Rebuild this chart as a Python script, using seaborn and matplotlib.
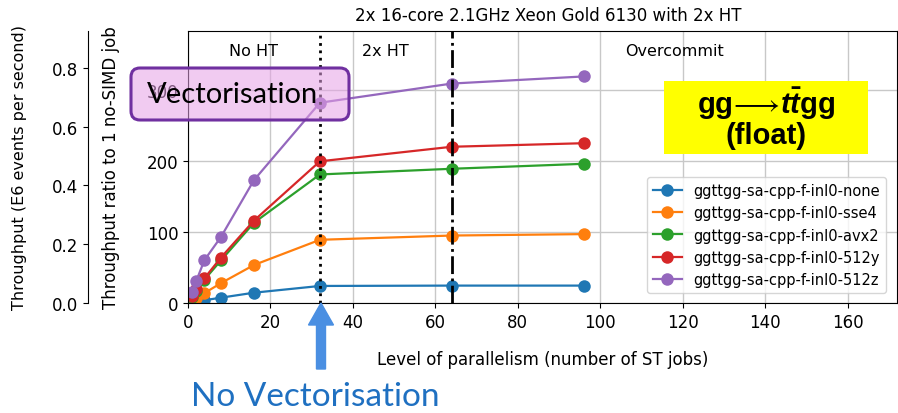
import seaborn as sns
import matplotlib.pyplot as plt
import numpy as np
import pandas as pd
from matplotlib.patches import FancyBboxPatch, Rectangle, FancyArrow
from matplotlib.transforms import IdentityTransform

plt.rcParams['font.family'] = ['DejaVu Sans']
plt.rcParams['mathtext.fontset'] = 'custom'
plt.rcParams['mathtext.it'] = 'Liberation Sans:italic:bold'
plt.rcParams['mathtext.rm'] = 'Liberation Sans:bold'

# Level of parallelism (number of ST jobs)
jobs = [1, 2, 4, 8, 16, 32, 64, 96]

# throughput ratio to 1 no-SIMD job
none_vals = [1, 2, 3.9, 7.5, 14.5, 24, 24.5, 24.5]
sse4_vals = [3.7, 7, 14, 28, 53.5, 89, 95, 97]
avx2_vals = [8.5, 17, 33, 60, 113, 181, 189, 196]
y512_vals = [10, 20, 35, 64, 116, 199.5, 220, 225]
z512_vals = [15, 31, 60.5, 93, 173, 282, 309, 319]

variants = ["ggttgg-sa-cpp-f-inl0-none", "ggttgg-sa-cpp-f-inl0-sse4",
            "ggttgg-sa-cpp-f-inl0-avx2", "ggttgg-sa-cpp-f-inl0-512y",
            "ggttgg-sa-cpp-f-inl0-512z"]
colors = ["#1f77b4", "#ff7f0e", "#2ca02c", "#d62728", "#9467bd"]

# 1 no-SIMD job in E6 events per second (ratio 383 <-> 0.925)
one_job = 0.925 / 383

rows = []
for name, vals in zip(variants, [none_vals, sse4_vals, avx2_vals, y512_vals, z512_vals]):
    for j, v in zip(jobs, vals):
        rows.append({"jobs": j, "ratio": v, "variant": name})
df = pd.DataFrame(rows)

W, H = 898, 414
fig = plt.figure(figsize=(W / 100, H / 100), dpi=100)
fig.patch.set_facecolor("white")

# main axes
ax = fig.add_axes([188 / W, 1 - 304 / H, (897 - 188) / W, (304 - 32) / H])
sns.lineplot(data=df, x="jobs", y="ratio", hue="variant", hue_order=variants,
             palette=colors, marker="o", markersize=9, markeredgewidth=0,
             linewidth=1.6, ax=ax)
ax.set_xlim(0, 172)
ax.set_ylim(0, 383)
ax.set_xticks(np.arange(0, 161, 20))
ax.set_yticks([0, 100, 200, 300])
ax.grid(True, color="#c8c8c8", linewidth=1)
ax.set_axisbelow(True)
ax.tick_params(labelsize=12)
for s in ax.spines.values():
    s.set_color("black")

ax.axvline(32, color="black", linestyle=":", linewidth=2)
ax.axvline(64, color="black", linestyle="-.", linewidth=2)

ax.text(16, 355, "No HT", ha="center", va="center", fontsize=11.5)
ax.text(48, 355, "2x HT", ha="center", va="center", fontsize=11.5)
ax.text(118, 355, "Overcommit", ha="center", va="center", fontsize=11.5)

ax.set_title("2x 16-core 2.1GHz Xeon Gold 6130 with 2x HT", fontsize=12, pad=8, x=0.508)
ax.set_xlabel("Level of parallelism (number of ST jobs)", fontsize=12)
ax.set_ylabel("Throughput ratio to 1 no-SIMD job", fontsize=12)
ax.xaxis.set_label_coords(0.5, -0.173)
ax.yaxis.set_label_coords(-0.096, 0.5)

sns.move_legend(ax, "lower right", title=None, fontsize=10.5, bbox_to_anchor=(0.995, 0.01))

# outer axis in E6 events per second
ax2 = fig.add_axes([88 / W, 1 - 304 / H, 0.0001, (304 - 32) / H])
ax2.set_facecolor("none")
for side in ["right", "top", "bottom"]:
    ax2.spines[side].set_visible(False)
ax2.set_xticks([])
ax2.set_ylim(0, 383 * one_job)
ax2.set_yticks([0.0, 0.2, 0.4, 0.6, 0.8])
ax2.set_yticklabels(["0.0", "0.2", "0.4", "0.6", "0.8"])
ax2.tick_params(labelsize=12)
ax2.set_ylabel("Throughput (E6 events per second)", fontsize=11.5)
ax2.yaxis.set_label_coords(27 / W, 1 - 168 / H, transform=fig.transFigure)

# slide annotations (pixel coordinates)
px = IdentityTransform()
box = FancyBboxPatch((131, H - 121), 218, 52, boxstyle="round,pad=0,rounding_size=9",
                     facecolor=(0.90, 0.63, 0.90, 0.55), edgecolor="#7030a0",
                     linewidth=2.2, transform=px, zorder=10)
fig.add_artist(box)
fig.text(233, H - 95, "Vectorisation", transform=px, ha="center", va="center",
         fontsize=21, family="Lato", color="black", zorder=11)

fig.add_artist(Rectangle((664, H - 155), 204, 73, facecolor="#ffff00",
                         edgecolor="none", transform=px, zorder=10))
fig.text(766, H - 104, r"gg$\!\longrightarrow\!t\bar{t}$gg", transform=px, ha="center",
         va="center", fontsize=21, family="Liberation Sans", weight="bold", zorder=11)
fig.text(766, H - 136, "(float)", transform=px, ha="center", va="center",
         fontsize=21, family="Liberation Sans", weight="bold", zorder=11)

fig.add_artist(FancyArrow(321, H - 370, 0, 66, width=9, head_width=25, head_length=22,
                          length_includes_head=True, color="#4a8fe2",
                          transform=px, zorder=10))
fig.text(315, H - 397, "No Vectorisation", transform=px, ha="center", va="center",
         fontsize=24, family="Lato", color="#1f70c1")

fig.savefig("out.png", dpi=100)
